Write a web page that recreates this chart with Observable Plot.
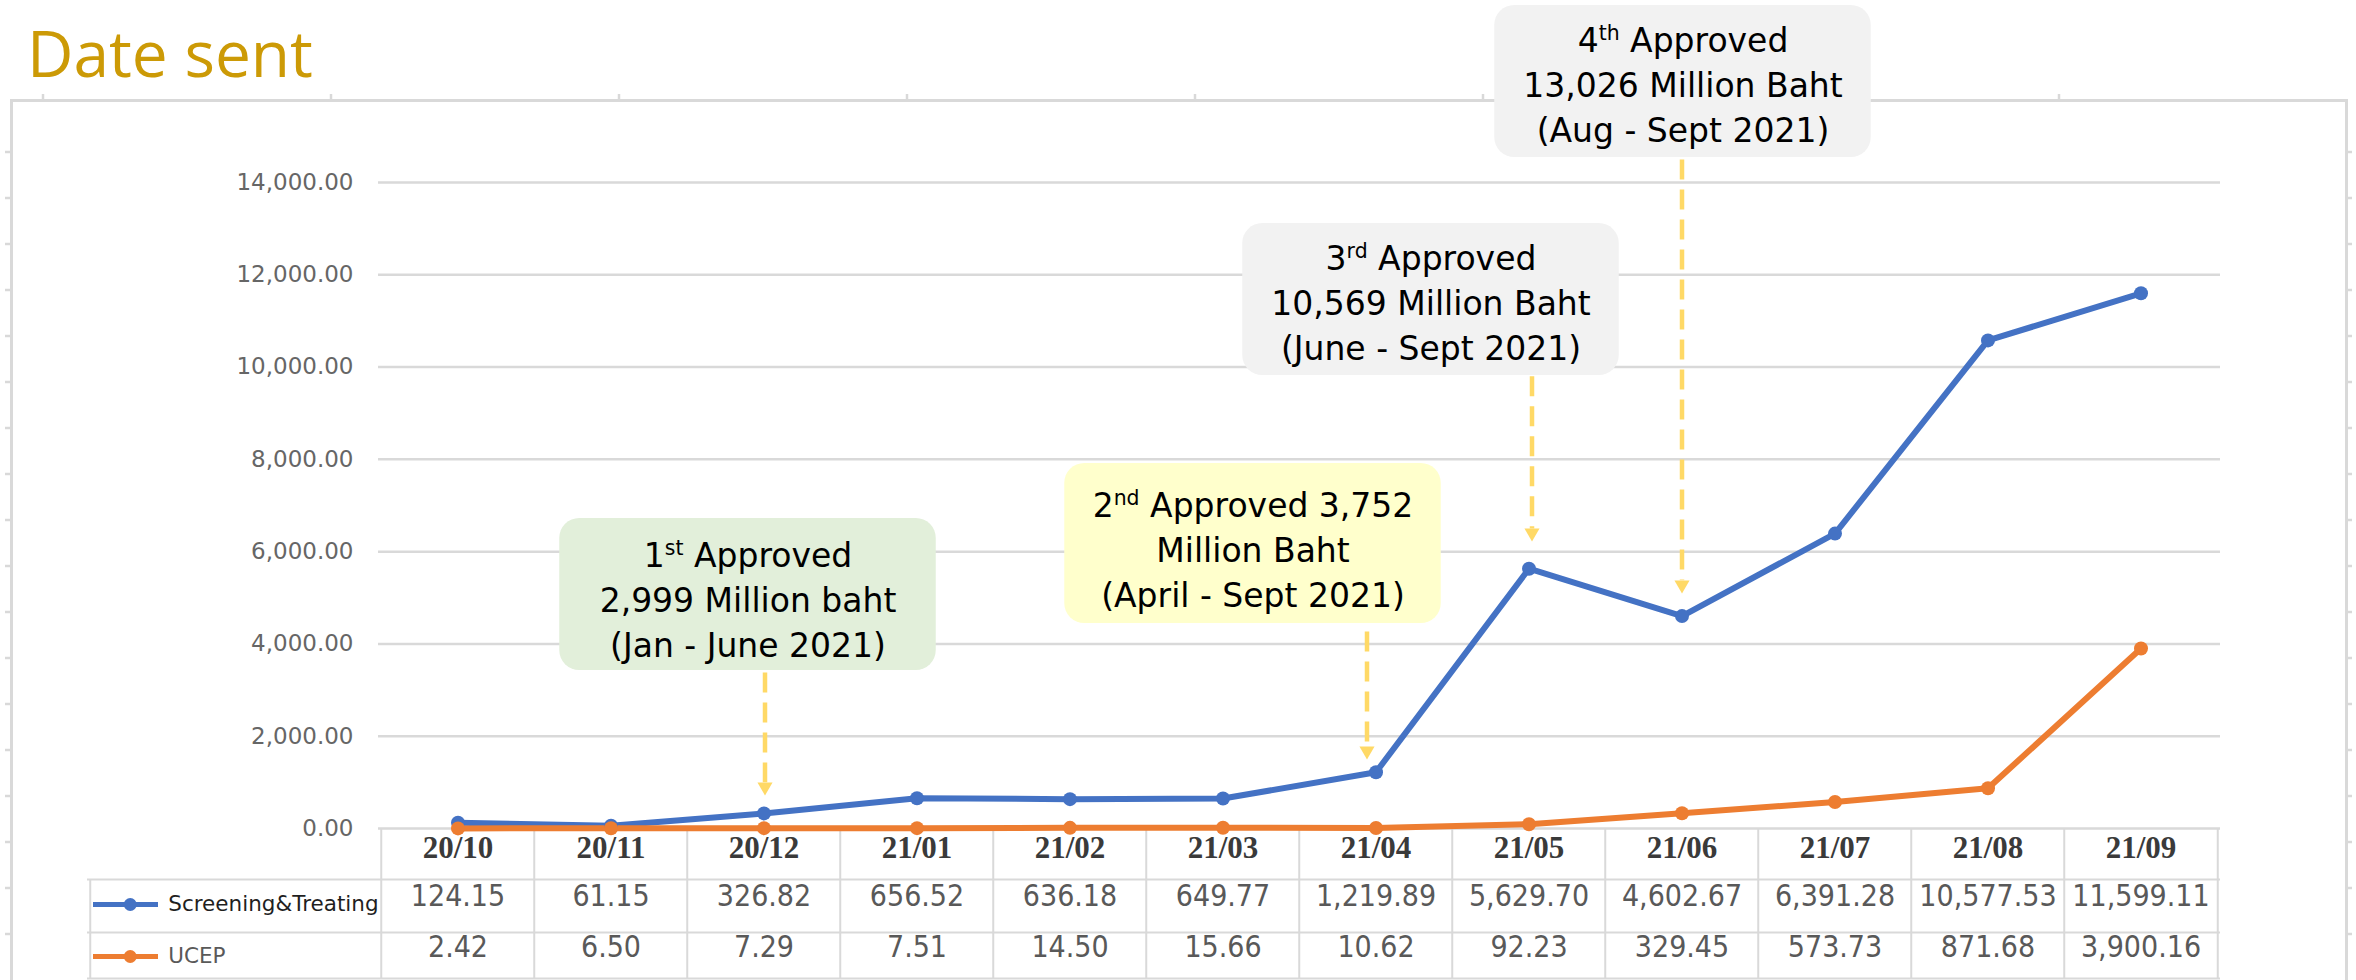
<!DOCTYPE html>
<html>
<head>
<meta charset="utf-8">
<script src="https://cdn.jsdelivr.net/npm/d3@7"></script>
<script src="https://cdn.jsdelivr.net/npm/@observablehq/plot@0.6"></script>
<style>
  html, body { margin: 0; padding: 0; background: #ffffff; }
  #wrap { position: relative; width: 2356px; height: 980px; overflow: hidden; background: #fff; }
  #title { position: absolute; left: 27px; top: 21px; font-family: "Open Sans", sans-serif; font-size: 64px; line-height: 1; color: #CC9A06; z-index: 2; }
  #chart { position: absolute; left: 0; top: 0; }
</style>
</head>
<body>
<div id="wrap">
  <div id="title">Date sent</div>
  <div id="chart"></div>
</div>
<script>
// ---------------- data ----------------
const months = ["20/10", "20/11", "20/12", "21/01", "21/02", "21/03", "21/04", "21/05", "21/06", "21/07", "21/08", "21/09"];
const seriesNames = ["Screening&Treating", "UCEP"];
const screening = [124.15, 61.15, 326.82, 656.52, 636.18, 649.77, 1219.89, 5629.70, 4602.67, 6391.28, 10577.53, 11599.11];
const ucep = [2.42, 6.50, 7.29, 7.51, 14.50, 15.66, 10.62, 92.23, 329.45, 573.73, 871.68, 3900.16];
const yTicks = [0, 2000, 4000, 6000, 8000, 10000, 12000, 14000];
const annotationMonths = ["20/12", "21/04", "21/05", "21/06"];
const annotationTexts = [
  "1st Approved\n2,999 Million baht\n(Jan - June 2021)",
  "2nd Approved 3,752\nMillion Baht\n(April - Sept 2021)",
  "3rd Approved\n10,569 Million Baht\n(June - Sept 2021)",
  "4th Approved\n13,026 Million Baht\n(Aug - Sept 2021)"
];

// ---------------- layout & style (not data) ----------------
const W = 2356, H = 980;
const ML = 378, MR = 136, MT = 182, MB = 152;
const bw = (W - ML - MR) / months.length;
const colors = ["#4472C4", "#ED7D31"];
const lineGray = "#d9d9d9";
const boxW = 377;
// y positions of annotation boxes expressed on the y scale, x as offsets from the month band centre
const annLayout = [
  {fill: "#E2EFDA", dx: -16, top: 6718, bottom: 3424, mid: 5006, arrowDx: 1,  arrowFrom: 3380, arrowEnd: 1000, tip: 715},
  {fill: "#FFFFCC", dx: -123, top: 7910, bottom: 4443, mid: 6090, arrowDx: -9, arrowFrom: 4269, arrowEnd: 1780, tip: 1495},
  {fill: "#F2F2F2", dx: -98, top: 13111, bottom: 9817, mid: 11443, arrowDx: 3, arrowFrom: 9800, arrowEnd: 6500, tip: 6220},
  {fill: "#F2F2F2", dx: 1,   top: 17836, bottom: 14542, mid: 16167, arrowDx: 0, arrowFrom: 14500, arrowEnd: 5380, tip: 5093}
];

const fmt = d3.format(",.2f");
const rows = months.flatMap((m, i) => [
  {month: m, series: seriesNames[0], value: screening[i]},
  {month: m, series: seriesNames[1], value: ucep[i]}
]);

const valueFont = "'Liberation Sans Narrow', 'Arial Narrow', 'DejaVu Sans Condensed', 'Liberation Sans', sans-serif";

const marks = [
  // outer picture border
  Plot.frame({stroke: lineGray, strokeWidth: 3, insetLeft: -(ML - 11), insetTop: -(MT - 100), insetRight: -(2346 - (W - MR)), insetBottom: -(MB + 30)}),
  // gridlines + y axis
  Plot.gridY({ticks: yTicks, stroke: lineGray, strokeOpacity: 1, strokeWidth: 2.5}),
  Plot.axisY({ticks: yTicks, tickFormat: fmt, tickSize: 0, tickPadding: 25, fontSize: 23, label: null, color: "#666666"}),
  // data table grid
  Plot.ruleY([0], {dy: 51, insetLeft: -(ML - 87), stroke: lineGray, strokeWidth: 2}),
  Plot.ruleY([0], {dy: 104, insetLeft: -(ML - 87), stroke: lineGray, strokeWidth: 2}),
  Plot.ruleY([0], {dy: 150, insetLeft: -(ML - 87), stroke: lineGray, strokeWidth: 2}),
  Plot.ruleX(months, {x: d => d, dx: -bw / 2, insetTop: H - MB - MT, insetBottom: -150, stroke: lineGray, strokeWidth: 2}),
  Plot.ruleX([months[months.length - 1]], {x: d => d, dx: bw / 2, insetTop: H - MB - MT, insetBottom: -150, stroke: lineGray, strokeWidth: 2}),
  Plot.ruleX([months[0]], {x: d => d, dx: -bw / 2 - (ML - 87), insetTop: H - MB - MT + 51, insetBottom: -150, stroke: lineGray, strokeWidth: 2}),
  // table header (months)
  Plot.text(months, {x: d => d, frameAnchor: "bottom", dy: 29, fontFamily: "'Liberation Serif', serif", fontWeight: "bold", fontSize: 31, fill: "#3a3a3a"}),
  // table values
  Plot.text(rows.filter(d => d.series === seriesNames[0]), {x: "month", frameAnchor: "bottom", dy: 77, text: d => fmt(d.value), fontFamily: valueFont, fontSize: 30, fill: "#595959"}),
  Plot.text(rows.filter(d => d.series === seriesNames[1]), {x: "month", frameAnchor: "bottom", dy: 128, text: d => fmt(d.value), fontFamily: valueFont, fontSize: 30, fill: "#595959"}),
  // legend keys inside the table
  ...seriesNames.map((s, k) => [
    Plot.ruleY([0], {dy: 76 + 52 * k, insetLeft: -(ML - 93), insetRight: (W - MR) - 158, stroke: colors[k], strokeWidth: 5}),
    Plot.dot([s], {x: () => months[0], y: () => 0, dx: 127 - (ML + bw / 2), dy: 76 + 52 * k, r: 6.5, fill: colors[k]}),
    Plot.text([s], {x: () => months[0], y: () => 0, dx: 165 - (ML + bw / 2), dy: 76 + 52 * k, textAnchor: "start", fontFamily: "'DejaVu Sans', sans-serif", fontSize: 21.5, fill: k === 0 ? "#1f1f1f" : "#595959"})
  ]).flat(),
  // annotation arrows and boxes
  ...annLayout.map((a, i) => [
    Plot.link([a], {x1: () => annotationMonths[i], x2: () => annotationMonths[i], y1: () => a.arrowFrom, y2: () => a.arrowEnd, dx: a.arrowDx, stroke: "#FFD966", strokeWidth: 4.5, strokeDasharray: "20,10"}),
    Plot.dot([a], {x: () => annotationMonths[i], y: () => a.tip, dx: a.arrowDx, dy: -8.7, symbol: "triangle", rotate: 180, r: 5.6, fill: "#FFD966"}),
    Plot.barY([a], {x: () => annotationMonths[i], y1: () => a.bottom, y2: () => a.top, insetLeft: a.dx - boxW / 2 + bw / 2, insetRight: bw / 2 - a.dx - boxW / 2, rx: 20, fill: a.fill}),
    Plot.text([annotationTexts[i]], {x: () => annotationMonths[i], y: () => a.mid, dx: a.dx, fontFamily: "'DejaVu Sans', sans-serif", fontSize: 33, lineHeight: 1.36, fill: "#000000"})
  ]).flat(),
  // series lines and markers
  Plot.line(rows, {x: "month", y: "value", z: "series", stroke: "series", strokeWidth: 6, strokeLinejoin: "round"}),
  Plot.dot(rows, {x: "month", y: "value", fill: "series", r: 7})
];

const chart = Plot.plot({
  width: W,
  height: H,
  marginLeft: ML,
  marginRight: MR,
  marginTop: MT,
  marginBottom: MB,
  x: {type: "band", domain: months, padding: 0, axis: null},
  y: {domain: [0, 14000]},
  color: {domain: seriesNames, range: colors},
  style: {fontFamily: "'DejaVu Sans', sans-serif", background: "transparent", overflow: "visible"},
  marks
});

document.getElementById("chart").appendChild(chart);

// superscript ordinals in the annotation boxes
const NS = "http://www.w3.org/2000/svg";
chart.querySelectorAll("tspan").forEach(t => {
  if (t.children.length) return;
  const m = t.textContent.match(/^(\d+)(st|nd|rd|th)( .*)$/);
  if (!m) return;
  t.textContent = m[1];
  const sup = document.createElementNS(NS, "tspan");
  sup.setAttribute("baseline-shift", "super");
  sup.setAttribute("font-size", "62%");
  sup.textContent = m[2];
  t.appendChild(sup);
  const rest = document.createElementNS(NS, "tspan");
  rest.textContent = m[3];
  t.appendChild(rest);
});

// small handle ticks on the picture border
const deco = d3.select(chart).insert("g", ":first-child").attr("stroke", lineGray).attr("stroke-width", 2.5);
for (let y = 152; y < H; y += 46) {
  deco.append("line").attr("x1", 5).attr("x2", 11).attr("y1", y).attr("y2", y);
  deco.append("line").attr("x1", 2346).attr("x2", 2352).attr("y1", y).attr("y2", y);
}
for (let x = 43; x < 2346; x += 288) {
  deco.append("line").attr("x1", x).attr("x2", x).attr("y1", 94).attr("y2", 100);
}
</script>
</body>
</html>
